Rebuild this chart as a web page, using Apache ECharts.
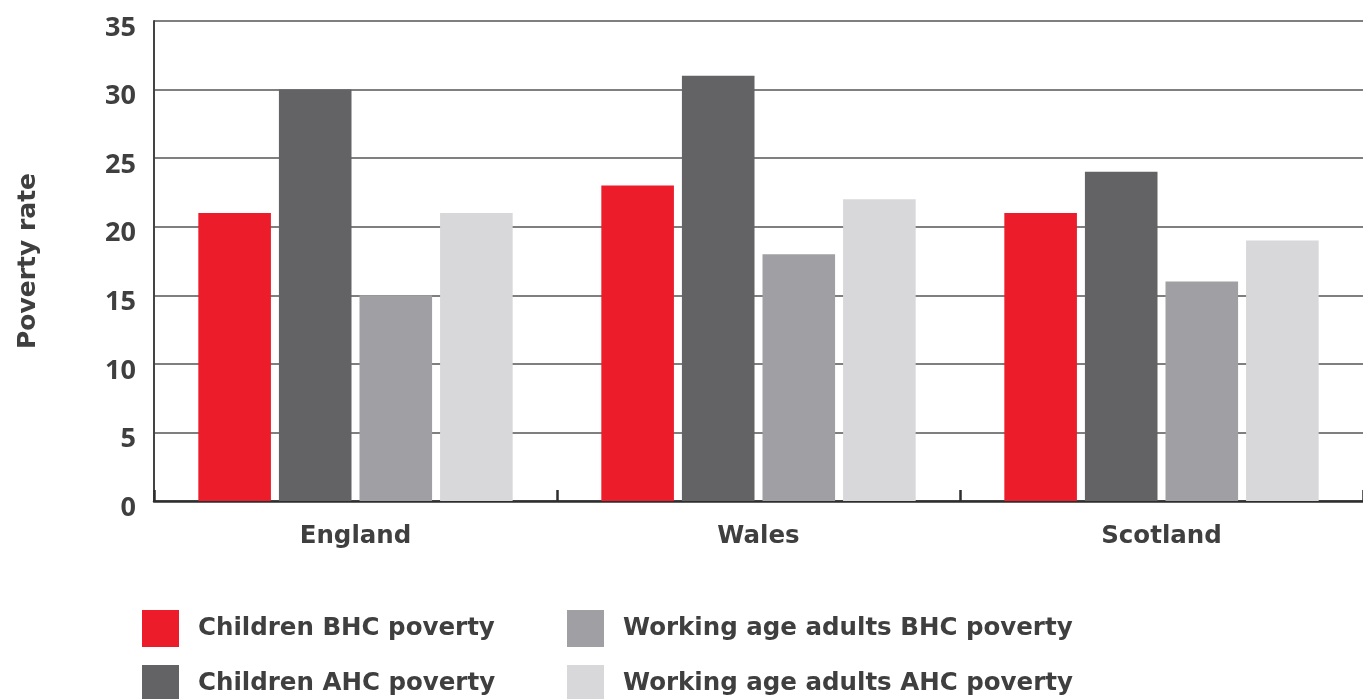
<!DOCTYPE html>
<html>
<head>
<meta charset="utf-8">
<script src="https://cdn.jsdelivr.net/npm/echarts@6/dist/echarts.min.js"></script>
<style>html,body{margin:0;padding:0;background:#fff}#c{width:1363px;height:699px}</style>
</head>
<body>
<div id="c"></div>
<script>
const categories = ['England', 'Wales', 'Scotland'];
const seriesNames = ['Children BHC poverty', 'Children AHC poverty', 'Working age adults BHC poverty', 'Working age adults AHC poverty'];
const childrenBHC = [21, 23, 21];
const childrenAHC = [30, 31, 24];
const adultsBHC = [15, 18, 16];
const adultsAHC = [21, 22, 19];
const yTicks = [0, 5, 10, 15, 20, 25, 30, 35];

const colors = ['#ED1C2B', '#636365', '#A0A0A4', '#D8D8DA'];
const values = [childrenBHC, childrenAHC, adultsBHC, adultsAHC];
const textColor = '#3f3f40';
const font = 'DejaVu Sans';

const chart = echarts.init(document.getElementById('c'));
const legendText = {color: textColor, fontFamily: font, fontSize: 24.5, fontWeight: 'bold', padding: [0,0,0,14]};
const legendPos = [[142, 610], [142, 665], [567, 610], [567, 665]];
chart.setOption({
  animation: false,
  grid: {left: 154, right: -3, top: 21, bottom: 198, containLabel: false},
  legend: seriesNames.map((n, i) => ({
    left: legendPos[i][0], top: legendPos[i][1], padding: 0,
    itemWidth: 37, itemHeight: 37, icon: 'rect',
    data: [n], textStyle: legendText, selectedMode: false
  })),
  xAxis: {
    type: 'category', data: categories,
    axisLine: {lineStyle: {color: '#2e2e2e', width: 2.5}},
    axisTick: {show: true, inside: true, length: 11, lineStyle: {color: '#2e2e2e', width: 2.5}},
    axisLabel: {color: textColor, fontFamily: font, fontSize: 24.5, fontWeight: 'bold', margin: 23}
  },
  yAxis: {
    type: 'value', min: yTicks[0], max: yTicks[yTicks.length-1], interval: 5,
    name: 'Poverty rate', nameLocation: 'middle', nameGap: 113, nameRotate: 90,
    nameTextStyle: {color: textColor, fontFamily: font, fontSize: 25, fontWeight: 'bold'},
    axisLine: {show: true, lineStyle: {color: '#444', width: 2}},
    axisTick: {show: false},
    splitLine: {lineStyle: {color: '#555', width: 1.5}},
    axisLabel: {color: textColor, fontFamily: 'Open Sans', fontSize: 27, fontWeight: 'bold', margin: 18,
                verticalAlign: 'top', lineHeight: 14}
  },
  series: values.map((v, i) => ({
    name: seriesNames[i], type: 'bar', data: v,
    itemStyle: {color: colors[i]},
    barGap: '11%', barCategoryGap: '22%'
  }))
});
</script>
</body>
</html>
